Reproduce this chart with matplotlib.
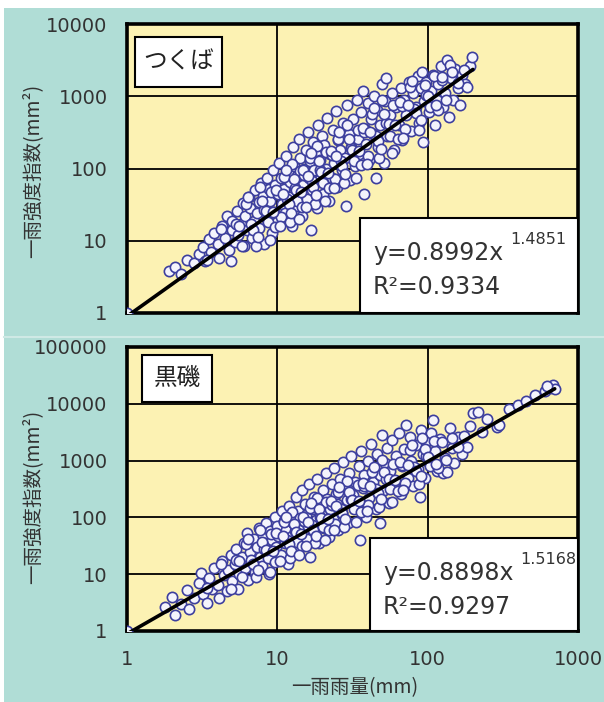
import numpy as np
import matplotlib
matplotlib.use("Agg")
import matplotlib.pyplot as plt
from matplotlib.patches import Rectangle

plt.rcParams['font.family'] = ['DejaVu Sans', 'Noto Sans CJK JP']

# --- data (rain mm, index mm2) ---
tsukuba_rain = [
    1, 1.9, 2.1, 2.3, 2.5, 2.8, 3.0, 3.2, 3.3, 3.5, 3.6, 3.8, 4.0, 4.1, 4.3, 4.5, 4.6, 4.8, 5.0, 5.0, 5.2,
    5.4, 5.5, 5.7, 5.9, 6.0, 6.1, 6.3, 6.5, 6.6, 6.8, 7.0, 7.1, 7.3, 7.5, 7.6, 7.8, 8.0, 8.1, 8.3, 8.5,
    8.6, 8.8, 9.0, 9.2, 9.4, 9.5, 9.7, 9.9, 10,
    10.3, 10.5, 10.7, 11, 11.2, 11.5, 11.7, 12, 12.2, 12.5, 12.8, 13, 13.3, 13.5, 13.8, 14, 14.2, 14.5,
    14.8, 15, 15.3, 15.6, 16, 16.2, 16.5, 16.8, 17, 17.3, 17.6, 18, 18.3, 18.6, 19, 19.3, 19.7, 20,
    20.5, 21, 21.5, 22, 22.5, 23, 23.5, 24, 24.5, 25, 25.5, 26, 27, 27.5, 28, 28.5, 29, 30, 30.5, 31,
    32, 33, 34, 34.5, 35, 36, 37, 38, 38.5, 39,
    40, 41, 42, 43, 44, 45, 46, 47, 48, 50, 51, 52, 53, 54, 56, 58, 60, 62, 64, 66, 68, 70, 72, 75, 78,
    80, 83, 86, 88, 90, 93, 95, 98,
    102, 105, 108, 112, 115, 118, 122, 126, 130, 134, 138, 142, 148, 152, 158, 165, 170, 178, 183, 190,
    198, 140, 125,
    5.3, 5.8, 6.2, 6.7, 7.2, 7.7, 8.2, 8.7, 9.1, 9.6, 10.1, 10.6, 11.1, 11.6, 12.1, 12.6, 13.1, 13.6,
    14.1, 14.6, 15.1, 15.8, 16.4, 17.1, 17.8, 18.5, 19.2, 20.2, 21.2, 22.2, 23.2, 24.2, 25.2, 26.5,
    27.8, 29.2, 30.8, 32.5, 34.2, 36, 38, 40, 42.5, 45, 47.5, 50, 53, 56, 59, 63, 67, 71, 76, 81, 87,
    92, 97, 104, 110, 117, 124, 132, 145, 160, 175,
    3.4, 4.2, 4.9, 5.6, 6.4, 6.9, 7.4, 7.9, 8.4, 8.9, 9.3, 9.8, 10.4, 10.9, 11.4, 11.9, 12.4, 12.9,
    13.4, 13.9, 14.4, 14.9, 15.5, 16.1, 16.7, 17.4, 18.1, 18.9, 19.5, 20.7, 21.7, 22.7, 23.7, 24.7,
    25.8, 27.1, 28.4, 29.9, 31.5, 33.3, 35, 37, 39.5, 41.5, 44, 46.5, 49, 51.5, 55, 57.5, 61, 65, 69,
    73.5, 78.5, 84, 90, 95.5, 101, 113,
]
tsukuba_index = [
    1, 3.8, 4.4, 3.5, 5.5, 4.9, 6.5, 8.2, 5.2, 10.5, 7.0, 13, 9, 5.8, 16, 11, 22, 7.5, 14, 19, 9.5,
    26, 12, 17, 33, 8.5, 22, 14, 40, 28, 11, 19, 50, 24, 34, 15, 62, 42, 9, 28, 20,
    75, 52, 36, 13, 95, 25, 60, 44, 18,
    120, 75, 32, 52, 24, 150, 90, 40, 65, 16, 200, 110, 30, 80, 48, 260, 140, 22,
    60, 100, 38, 180, 320, 75, 125, 14, 50, 230, 95, 160, 28, 400, 70, 130, 280, 45,
    210, 100, 500, 35, 160, 75, 340, 120, 620, 55, 250, 180, 95, 420, 140, 30, 750, 300, 70, 200,
    480, 110, 900, 260, 160, 600, 1200, 45, 350, 220,
    800, 130, 480, 300, 1000, 75, 650, 200, 400, 1500, 120, 850, 1800, 280, 550, 1100, 180, 700, 400,
    1300, 250, 900, 550, 1600, 330, 1100, 700, 1900, 420, 1300, 230, 850, 1600,
    600, 1200, 2000, 400, 900, 1500, 2600, 700, 1100, 3200, 520, 1800, 900, 2400, 1300, 750, 2000, 1500,
    1350, 2600, 3500, 2700, 1700,
    17, 8.5, 32, 17, 8.5, 56, 27, 18, 48, 15.5, 45, 21, 77, 38, 18, 116, 53, 35,
    92, 29, 81, 38, 138, 67, 32, 206, 94, 62, 168, 54, 154, 72, 260, 129,
    63, 405, 190, 127, 342, 111, 320, 151, 566, 282, 139, 900, 425, 284, 766, 253, 741, 354, 1340, 675, 342,
    2200, 1040, 712, 1930, 636, 1850, 890, 2190, 1520, 2310,
    5.5, 14.4, 5.2, 16.2, 40, 14.3, 11.4, 35, 25.5, 10.4, 24.7, 51, 16, 44, 94, 32, 24.6, 72,
    51, 20, 47, 94, 29, 78, 165, 56, 43, 127, 89, 36, 87, 176, 54, 147,
    315, 109, 84, 252, 181, 74, 176, 365, 116, 319, 695, 242, 189, 564, 415, 166, 403, 842, 266,
    745, 1640, 584, 467, 1410, 1020, 755,
]

kuroiso_rain = [
    1, 1.8, 2.0, 2.1, 2.3, 2.5, 2.6, 2.8, 3.0, 3.1, 3.2, 3.4, 3.5, 3.7, 3.8, 4.0, 4.1, 4.3, 4.4, 4.6,
    4.7, 4.9, 5.0,
    5.2, 5.3, 5.5, 5.6, 5.8, 6.0, 6.1, 6.3, 6.4, 6.6, 6.8, 7.0, 7.1, 7.3, 7.5, 7.7, 7.9, 8.0, 8.2, 8.4,
    8.6, 8.8, 9.0, 9.2, 9.4, 9.6, 9.8, 10,
    10.3, 10.5, 10.8, 11, 11.3, 11.5, 11.8, 12, 12.3, 12.6, 13, 13.3, 13.5, 13.8, 14, 14.3, 14.6, 15,
    15.3, 15.6, 16, 16.3, 16.6, 17, 17.3, 17.6, 18, 18.4, 18.8, 19.2, 19.6, 20,
    20.5, 21, 21.5, 22, 22.5, 23, 23.5, 24, 24.5, 25, 25.5, 26, 27, 27.5, 28, 29, 29.5, 30, 31, 32, 33,
    34, 35, 35.6, 36, 37, 38, 39, 40,
    41, 42, 43, 44, 45, 46, 48, 48.5, 50, 51, 52, 54, 55, 56, 58, 60, 62, 64, 66, 68, 70, 72, 74, 76,
    78, 80, 83, 86, 89, 90, 93, 96, 99,
    102, 105, 108, 112, 116, 120, 127, 130, 134, 140, 145, 150, 160, 170, 183, 190, 200, 215, 230, 250,
    290, 300, 350, 400, 450, 520, 600, 650, 680, 700, 620,
    5.3, 5.8, 6.2, 6.7, 7.2, 7.7, 8.2, 8.7, 9.1, 9.6, 10.1, 10.6, 11.1, 11.6, 12.1, 12.6, 13.1, 13.6,
    14.1, 14.6, 15.1, 15.8, 16.4, 17.1, 17.8, 18.5, 19.2, 20.2, 21.2, 22.2, 23.2, 24.2, 25.2, 26.5,
    27.8, 29.2, 30.8, 32.5, 34.2, 36, 38, 40, 42.5, 45, 47.5, 50, 53, 56, 59, 63, 67, 71, 76, 81, 87,
    92, 97, 104, 110, 117, 124, 132, 145, 160, 175,
    3.4, 4.2, 4.9, 5.6, 6.4, 6.9, 7.4, 7.9, 8.4, 8.9, 9.3, 9.8, 10.4, 10.9, 11.4, 11.9, 12.4, 12.9,
    13.4, 13.9, 14.4, 14.9, 15.5, 16.1, 16.7, 17.4, 18.1, 18.9, 19.5, 20.7, 21.7, 22.7, 23.7, 24.7,
    25.8, 27.1, 28.4, 29.9, 31.5, 33.3, 35, 37, 39.5, 41.5, 44, 46.5, 49, 51.5, 55, 57.5, 61, 65, 69,
    73.5, 78.5, 84, 90, 95.5, 101, 113,
]
kuroiso_index = [
    1, 2.6, 4.0, 1.9, 3.0, 5.2, 2.4, 3.8, 7.0, 10.5, 4.5, 3.1, 8.5, 5.5, 13, 6.5, 3.8, 17, 9.5, 5,
    12, 22, 7.5,
    15, 28, 5.5, 10, 20, 36, 13, 53, 8, 25, 17, 42, 11, 30, 65, 20, 14, 48, 35, 80,
    24, 10, 58, 40, 18, 100, 30, 70,
    22, 45, 130, 85, 35, 60, 15, 160, 100, 48, 75, 228, 28, 130, 60, 95, 300, 40,
    170, 110, 70, 380, 20, 140, 55, 230, 90, 480, 35, 180, 120, 300,
    65, 600, 210, 45, 140, 380, 95, 750, 260, 170, 60, 480, 120, 950, 320, 200, 80, 600, 1200, 250, 420,
    150, 800, 40, 1500, 330, 550, 100, 1000,
    220, 2000, 420, 700, 140, 1300, 80, 550, 2800, 300, 900, 1700, 180, 650, 2300, 400, 1200, 3000, 260,
    800, 1600, 4200, 500, 2600, 1000, 350, 1900, 700, 230, 3400, 1300, 500, 2200,
    900, 3000, 5100, 1500, 650, 2400, 600, 1100, 630, 3800, 1700, 900, 2600, 1300, 1750, 4000, 6900,
    7200, 3200, 5500, 3900, 4200, 8000, 9500, 11000, 14000, 16500, 19000, 21000, 18500, 20500,
    18, 9.0, 34, 17.5, 8.9, 59, 28, 19, 51, 16.5, 48, 22, 82, 40, 19.5, 125, 57, 37,
    99, 31, 88, 41, 149, 73, 35, 223, 102, 68, 183, 59, 168, 78, 285, 141,
    69, 446, 209, 140, 377, 122, 354, 168, 631, 315, 155, 1010, 478, 319, 865, 286, 839, 401, 1520, 768, 389,
    2540, 1190, 816, 2220, 732, 2130, 1026, 2535, 1766, 2700,
    5.7, 14.9, 5.5, 17, 42, 15, 12, 37, 27, 11, 26, 54, 17, 47, 100, 34, 26, 77,
    55, 22, 51, 102, 31, 84, 178, 61, 47, 138, 97, 40, 95, 192, 60, 161,
    345, 120, 92, 277, 200, 82, 195, 405, 129, 354, 775, 271, 212, 633, 466, 187, 455, 950, 301,
    844, 1860, 664, 533, 1610, 1170, 868,
]

panels = [
    dict(name="つくば", rain=tsukuba_rain, index=tsukuba_index, a=0.8992, b=1.4851,
         r2="0.9334", x_end=200, ymax=1e4,
         yticks=[1, 10, 100, 1000, 10000]),
    dict(name="黒磯", rain=kuroiso_rain, index=kuroiso_index, a=0.8898, b=1.5168,
         r2="0.9297", x_end=700, ymax=1e5,
         yticks=[1, 10, 100, 1000, 10000, 100000]),
]

W, H = 604, 702
fig = plt.figure(figsize=(W / 100, H / 100), dpi=100, facecolor='white')
teal = '#b0ddd6'
fig.patches.append(Rectangle((4 / W, 0), 1, 1 - 8 / H, transform=fig.transFigure,
                             facecolor=teal, edgecolor='none', zorder=-10))
fig.lines.append(plt.Line2D([4 / W, 1], [1 - 337 / H] * 2, transform=fig.transFigure,
                            color='#cfe9e5', lw=1.5, zorder=-9))

# axes boxes in pixels (left, top, right, bottom)
boxes = [(127, 24, 578, 313), (127, 347, 578, 631)]
name_boxes = [(135, 37, 222, 87), (142, 355, 212, 402)]
eq_boxes = [(360, 218, 578, 313), (370, 538, 578, 631)]
ylabel_y = [171, 497]

for i, p in enumerate(panels):
    l, t, r, b = boxes[i]
    ax = fig.add_axes([l / W, 1 - b / H, (r - l) / W, (b - t) / H])
    ax.set_facecolor('#fcf2b3')
    ax.set_xscale('log')
    ax.set_yscale('log')
    ax.set_xlim(1, 1000)
    ax.set_ylim(1, p['ymax'])
    ax.grid(True, which='major', color='black', lw=1.3)
    ax.set_axisbelow(True)
    for s in ax.spines.values():
        s.set_linewidth(2.6)
        s.set_color('black')
    ax.set_yticks(p['yticks'])
    ax.set_yticklabels([str(v) for v in p['yticks']])
    ax.set_xticks([1, 10, 100, 1000])
    if i == 1:
        ax.set_xticklabels(['1', '10', '100', '1000'])
    else:
        ax.set_xticklabels([])
    ax.minorticks_off()
    ax.tick_params(length=0, pad=14, labelsize=14, labelcolor='#333333')

    ax.scatter(p['rain'], p['index'], s=55, facecolor='#f4f4fc', edgecolor='#3d3f9e',
               linewidth=1.2, zorder=3)
    fx = np.array([1, p['x_end']], dtype=float)
    ax.plot(fx, p['a'] * fx ** p['b'], color='black', lw=2.6, zorder=4, solid_capstyle='round')

    # name label box
    nl, nt, nr, nb = name_boxes[i]
    ax.add_patch(Rectangle(((nl - l) / (r - l), (b - nb) / (b - t)), (nr - nl) / (r - l),
                           (nb - nt) / (b - t), transform=ax.transAxes, facecolor='white',
                           edgecolor='black', lw=1.5, zorder=5))
    ax.text(((nl + nr) / 2 - l) / (r - l), (b - (nt + nb) / 2) / (b - t), p['name'],
            transform=ax.transAxes, ha='center', va='center', fontsize=17,
            family='Noto Sans CJK JP', color='#222222', zorder=6)

    # equation box
    el, et, er, eb = eq_boxes[i]
    ax.add_patch(Rectangle(((el - l) / (r - l), 0), (er - el) / (r - l), (b - et) / (b - t),
                           transform=ax.transAxes, facecolor='white', edgecolor='black',
                           lw=1.5, zorder=5, clip_on=False))
    x0 = (el + 13 - l) / (r - l)
    ax.text(x0, (b - (et + 35)) / (b - t), f"y=0.{str(p['a']).split('.')[1]}x",
            transform=ax.transAxes, ha='left', va='center', fontsize=17, color='#333333', zorder=6)
    ax.text((el + 150 - l) / (r - l), (b - (et + 22)) / (b - t), f"{p['b']}",
            transform=ax.transAxes, ha='left', va='center', fontsize=11.5, color='#333333', zorder=6)
    ax.text(x0, (b - (et + 69)) / (b - t), f"R²=0.{p['r2'].split('.')[1]}",
            transform=ax.transAxes, ha='left', va='center', fontsize=17, color='#333333', zorder=6)

    fig.text(33 / W, 1 - ylabel_y[i] / H, "一雨強度指数(mm²)", rotation=90, ha='center',
             va='center', fontsize=14, color='#333333', family=['Noto Sans CJK JP', 'DejaVu Sans'])

fig.text(355 / W, 1 - 688 / H, "一雨雨量(mm)", ha='center', va='center', fontsize=14,
         color='#333333', family=['Noto Sans CJK JP', 'DejaVu Sans'])

fig.savefig('out.png', dpi=100, facecolor=fig.get_facecolor())
